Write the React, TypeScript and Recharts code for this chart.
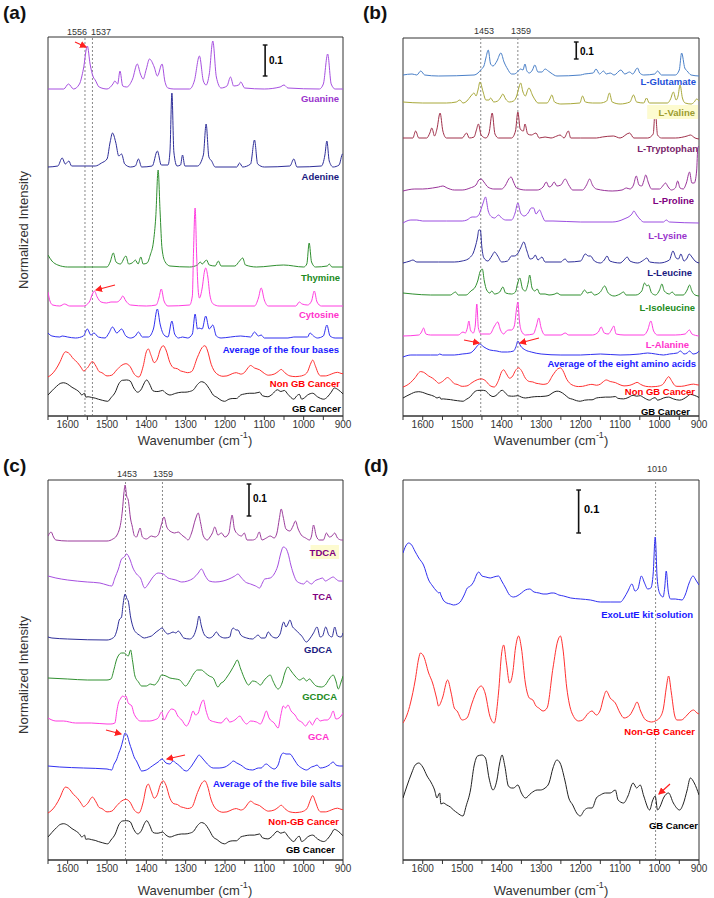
import React from "react";
import { LineChart, Line, XAxis, YAxis, ReferenceLine, ReferenceArea } from "recharts";

type Pt = [number, number];

const FONT = "'Liberation Sans', Arial, sans-serif";
const TICKS = [1650, 1600, 1550, 1500, 1450, 1400, 1350, 1300, 1250, 1200, 1150, 1100, 1050, 1000, 950, 900];

// heights above each trace's own baseline (figure units, the 0.1 bar gives the scale)

// (a) nucleobases
const guanine: Pt[] = [[1650,0],[1610,0],[1598,5],[1585,0],[1570,5],[1560,20],[1550,43],[1543,25],[1535,12],[1530,9],[1520,2],[1500,0],[1485,5],[1480,8],[1473,5],[1467,18],[1460,3],[1450,2],[1435,10],[1423,25],[1415,15],[1408,10],[1400,20],[1392,30],[1380,22],[1372,13],[1360,25],[1353,8],[1345,1],[1330,0],[1290,0],[1278,8],[1265,33],[1255,8],[1248,4],[1240,15],[1231,48],[1222,12],[1210,1],[1195,3],[1186,12],[1178,3],[1165,4],[1160,7],[1150,1],[1100,0],[1060,2],[1050,4],[1040,1],[960,0],[950,5],[939,35],[930,5],[920,0],[900,0]];
const adenine: Pt[] = [[1650,0],[1625,1],[1614,9],[1606,3],[1597,6],[1590,1],[1530,1],[1514,4],[1500,8],[1492,25],[1486,34],[1478,25],[1470,11],[1463,13],[1455,3],[1440,0],[1428,1],[1420,8],[1412,0],[1385,1],[1372,16],[1362,2],[1345,2],[1340,15],[1335,74],[1330,15],[1322,1],[1313,2],[1308,12],[1302,1],[1270,1],[1255,12],[1248,43],[1241,10],[1234,6],[1225,0],[1170,0],[1163,4],[1155,0],[1135,3],[1125,27],[1117,3],[1100,0],[1035,1],[1025,8],[1017,0],[955,1],[946,12],[941,26],[935,6],[925,0],[910,2],[901,13],[900,13]];
const thymine: Pt[] = [[1650,12],[1640,6],[1625,2],[1600,0],[1500,0],[1492,5],[1484,14],[1477,5],[1466,3],[1452,11],[1445,3],[1433,5],[1428,7],[1421,3],[1414,10],[1408,3],[1398,4],[1390,12],[1382,25],[1376,50],[1370,97],[1365,55],[1360,18],[1352,5],[1340,1],[1290,0],[1270,2],[1263,5],[1258,3],[1247,7],[1240,2],[1225,1],[1217,6],[1210,1],[1175,1],[1163,6],[1155,9],[1148,2],[1120,0],[1051,2],[1000,0],[992,3],[986,24],[980,5],[970,0],[940,1],[935,3],[928,0],[900,0]];
const cytosine: Pt[] = [[1650,14],[1645,5],[1638,1],[1620,0],[1608,2],[1595,0],[1560,0],[1545,4],[1537,12],[1532,15],[1525,9],[1515,4],[1501,3],[1490,4],[1475,4],[1465,7],[1460,10],[1452,5],[1440,1],[1400,0],[1375,1],[1368,8],[1362,17],[1355,5],[1345,0],[1290,1],[1283,10],[1280,55],[1276,98],[1272,50],[1268,15],[1265,8],[1258,18],[1252,35],[1249,38],[1244,30],[1238,10],[1230,2],[1215,0],[1125,0],[1115,8],[1108,18],[1100,6],[1090,0],[1020,0],[1011,4],[1004,2],[990,1],[980,5],[973,15],[966,4],[955,0],[900,0]];
const avgBases: Pt[] = [[1650,6],[1640,3],[1620,2],[1614,3],[1600,2],[1580,1],[1560,3],[1550,10],[1541,4],[1533,6],[1522,2],[1505,1],[1495,6],[1486,12],[1475,6],[1463,10],[1452,3],[1440,1],[1428,3],[1420,7],[1410,2],[1395,2],[1382,10],[1372,30],[1365,15],[1355,4],[1345,2],[1335,18],[1328,5],[1318,1],[1308,2],[1295,1],[1283,5],[1276,25],[1270,10],[1266,11],[1258,10],[1249,23],[1240,10],[1231,14],[1222,3],[1210,1],[1186,2],[1160,3],[1135,2],[1125,7],[1115,3],[1108,4],[1100,1],[1040,1],[1025,2],[990,2],[984,6],[975,3],[965,1],[950,3],[941,14],[933,3],[920,1],[900,1]];

// (b) amino acids
const glutamate: Pt[] = [[1650,1],[1627,2],[1615,1],[1605,5],[1595,1],[1560,0],[1470,1],[1460,3],[1451,7],[1445,10],[1440,18],[1434,26],[1428,12],[1422,10],[1412,15],[1402,23],[1394,14],[1385,7],[1375,2],[1368,2],[1360,4],[1352,7],[1346,6],[1341,12],[1336,5],[1330,3],[1322,6],[1316,11],[1308,4],[1298,4],[1290,7],[1282,5],[1275,3],[1260,0],[1200,1],[1190,2],[1168,3],[1161,7],[1152,2],[1142,5],[1135,2],[1125,3],[1115,1],[1098,6],[1088,2],[1076,4],[1068,2],[1056,8],[1050,3],[1040,1],[1012,2],[1005,5],[995,1],[960,1],[950,6],[944,23],[936,8],[930,5],[920,1],[900,0]];
const valine: Pt[] = [[1650,2],[1600,1],[1540,1],[1515,2],[1506,4],[1498,1],[1488,3],[1478,8],[1470,11],[1465,8],[1460,14],[1455,22],[1447,12],[1440,4],[1432,4],[1428,6],[1420,2],[1410,3],[1402,7],[1397,10],[1390,5],[1380,2],[1370,3],[1362,8],[1356,17],[1352,21],[1346,12],[1340,8],[1333,15],[1331,16],[1321,8],[1315,4],[1308,1],[1285,1],[1278,5],[1273,9],[1266,2],[1250,0],[1202,1],[1195,8],[1188,2],[1170,1],[1150,1],[1134,3],[1127,11],[1120,2],[1100,0],[1075,2],[1066,9],[1058,2],[1040,1],[1033,6],[1026,1],[980,1],[972,5],[965,12],[958,4],[953,8],[948,19],[942,6],[935,1],[920,0],[912,2],[906,5],[900,3]];
const tryptophan: Pt[] = [[1650,1],[1625,1],[1618,8],[1610,1],[1590,1],[1582,6],[1577,11],[1570,3],[1564,10],[1556,26],[1549,8],[1540,1],[1500,1],[1489,6],[1482,1],[1470,2],[1464,9],[1459,15],[1452,4],[1440,1],[1432,6],[1424,26],[1417,5],[1408,1],[1375,1],[1365,8],[1359,27],[1353,10],[1345,8],[1341,15],[1334,5],[1325,4],[1313,6],[1305,1],[1290,2],[1275,1],[1260,3],[1252,4],[1242,1],[1231,8],[1225,1],[1200,1],[1160,1],[1145,2],[1117,3],[1100,1],[1076,6],[1065,1],[1030,1],[1016,5],[1011,29],[1005,4],[995,1],[960,1],[930,3],[922,4],[910,1],[900,0]];
const proline: Pt[] = [[1650,0],[1620,2],[1600,2],[1575,3],[1560,4],[1549,5],[1538,3],[1520,1],[1500,1],[1480,3],[1465,6],[1458,11],[1452,12],[1445,9],[1435,4],[1420,2],[1400,2],[1390,6],[1382,12],[1376,14],[1370,9],[1362,3],[1340,1],[1310,1],[1295,4],[1287,9],[1280,4],[1274,5],[1267,9],[1260,5],[1250,6],[1239,12],[1230,6],[1220,1],[1195,1],[1185,6],[1177,12],[1170,6],[1160,2],[1120,0],[1095,1],[1084,3],[1075,2],[1066,6],[1059,15],[1052,6],[1045,5],[1040,10],[1035,16],[1028,8],[1020,2],[1000,2],[990,6],[985,8],[978,4],[970,1],[960,3],[954,10],[948,3],[940,2],[932,8],[924,19],[918,8],[912,8],[906,20],[903,43],[900,45]];
const lysine: Pt[] = [[1650,0],[1630,3],[1615,3],[1600,2],[1540,2],[1500,2],[1488,3],[1475,6],[1466,6],[1458,8],[1453,13],[1447,20],[1441,26],[1434,12],[1425,6],[1418,5],[1408,8],[1400,5],[1390,3],[1375,3],[1366,10],[1359,20],[1352,10],[1343,7],[1333,10],[1325,15],[1319,15],[1313,9],[1304,13],[1297,7],[1290,2],[1270,2],[1200,1],[1120,1],[1090,4],[1070,9],[1065,12],[1058,8],[1050,4],[1040,1],[990,1],[983,3],[975,1],[900,0]];
const leucine: Pt[] = [[1650,0],[1632,2],[1625,3],[1615,1],[1560,1],[1520,1],[1500,2],[1485,4],[1479,6],[1472,10],[1467,16],[1461,26],[1458,33],[1454,33],[1450,15],[1445,5],[1435,2],[1425,7],[1418,11],[1410,7],[1400,1],[1385,2],[1375,7],[1368,7],[1360,9],[1352,15],[1344,21],[1336,12],[1328,4],[1320,5],[1315,8],[1308,3],[1298,6],[1290,1],[1250,1],[1244,3],[1239,4],[1232,1],[1200,2],[1188,9],[1180,7],[1175,7],[1165,2],[1150,0],[1140,3],[1133,7],[1126,2],[1100,0],[1090,3],[1082,6],[1075,2],[1055,0],[1040,3],[1032,5],[1025,1],[1000,0],[975,3],[966,12],[958,5],[952,4],[946,9],[938,2],[930,5],[925,9],[918,6],[910,2],[900,0]];
const isoleucine: Pt[] = [[1650,3],[1625,2],[1580,1],[1530,1],[1522,3],[1517,4],[1510,1],[1490,1],[1478,5],[1467,9],[1460,16],[1455,24],[1449,27],[1444,15],[1438,6],[1430,3],[1425,5],[1418,2],[1405,4],[1397,9],[1390,3],[1375,2],[1365,4],[1360,12],[1354,18],[1347,7],[1340,5],[1333,13],[1329,21],[1323,8],[1316,5],[1310,7],[1303,2],[1290,2],[1280,1],[1265,2],[1260,3],[1250,1],[1200,1],[1190,6],[1183,3],[1173,4],[1165,1],[1150,4],[1139,10],[1130,3],[1115,0],[1100,2],[1091,4],[1085,1],[1060,1],[1045,5],[1038,13],[1032,10],[1028,11],[1020,3],[1010,1],[1000,6],[994,12],[988,5],[975,2],[968,4],[960,1],[940,1],[930,6],[924,11],[918,5],[910,1],[900,0]];
const alanine: Pt[] = [[1650,0],[1610,1],[1603,4],[1598,8],[1592,2],[1580,1],[1510,1],[1498,4],[1492,3],[1487,8],[1483,15],[1479,6],[1472,3],[1467,10],[1463,32],[1459,8],[1452,2],[1430,2],[1418,10],[1410,14],[1403,6],[1395,2],[1388,5],[1382,6],[1375,6],[1368,10],[1362,28],[1359,34],[1355,15],[1350,5],[1340,1],[1320,2],[1312,10],[1306,18],[1300,8],[1290,1],[1250,1],[1239,3],[1230,1],[1170,1],[1155,4],[1148,9],[1140,3],[1130,2],[1122,6],[1116,10],[1110,2],[1090,1],[1040,1],[1030,6],[1022,15],[1015,5],[1005,1],[960,1],[935,2],[928,5],[924,6],[918,2],[900,0]];
const avgAmino: Pt[] = [[1650,0],[1630,2],[1615,2],[1580,2],[1562,2],[1557,3],[1550,2],[1520,2],[1500,3],[1480,4],[1470,7],[1462,11],[1456,13],[1445,10],[1430,7],[1412,6],[1400,5],[1385,5],[1370,6],[1364,10],[1359,16],[1352,11],[1340,7],[1325,5],[1300,3],[1250,2],[1200,2],[1150,3],[1100,2],[1050,3],[1030,4],[1010,3],[990,2],[975,3],[955,4],[947,6],[938,3],[930,4],[924,6],[915,3],[905,4],[900,6]];

// (c) bile salts
const tdca: Pt[] = [[1650,5],[1642,9],[1636,4],[1630,1],[1600,0],[1500,0],[1485,2],[1476,5],[1470,10],[1467,14],[1461,30],[1457,48],[1454,56],[1450,45],[1446,41],[1440,22],[1436,15],[1430,5],[1425,4],[1420,9],[1416,13],[1410,4],[1400,2],[1387,5],[1378,4],[1370,6],[1362,16],[1355,24],[1348,14],[1343,11],[1336,9],[1328,8],[1319,9],[1310,6],[1300,3],[1294,1],[1285,8],[1275,22],[1268,28],[1262,18],[1255,5],[1245,1],[1238,4],[1232,8],[1226,14],[1218,6],[1209,8],[1200,4],[1190,8],[1186,18],[1182,26],[1176,12],[1168,7],[1158,5],[1151,8],[1144,1],[1130,1],[1120,3],[1113,9],[1106,1],[1095,3],[1085,5],[1075,3],[1068,8],[1062,22],[1057,32],[1052,24],[1045,12],[1035,10],[1027,15],[1021,20],[1014,12],[1006,6],[995,3],[985,1],[980,5],[975,16],[968,5],[960,1],[950,1],[942,8],[935,4],[928,5],[921,8],[914,3],[904,1],[900,1]];
const tca: Pt[] = [[1650,5],[1630,3],[1600,1],[1550,-1],[1518,-2],[1500,-4],[1488,-5],[1480,3],[1471,12],[1463,22],[1456,24],[1450,27],[1442,22],[1434,13],[1425,7],[1415,3],[1404,-7],[1395,-3],[1385,3],[1370,8],[1357,7],[1345,3],[1336,2],[1325,1],[1310,-1],[1295,0],[1280,3],[1268,8],[1260,12],[1250,5],[1240,0],[1225,-1],[1205,0],[1190,2],[1175,5],[1167,7],[1160,4],[1148,-1],[1135,-3],[1122,-5],[1112,-7],[1105,-2],[1099,2],[1085,3],[1075,7],[1066,15],[1058,28],[1052,34],[1046,33],[1040,28],[1032,15],[1025,6],[1018,0],[1010,-2],[1000,-3],[992,0],[985,-2],[980,-3],[972,0],[960,2],[952,3],[945,0],[935,2],[925,4],[918,2],[910,0],[900,0]];
const gdca: Pt[] = [[1650,2],[1640,1],[1600,0],[1500,-1],[1485,1],[1480,3],[1474,10],[1469,19],[1463,22],[1459,35],[1454,45],[1449,40],[1446,38],[1440,22],[1432,10],[1425,6],[1418,4],[1405,1],[1395,2],[1387,3],[1375,7],[1368,9],[1360,11],[1352,7],[1345,5],[1338,6],[1332,7],[1325,6],[1319,8],[1312,5],[1305,1],[1290,0],[1280,3],[1272,12],[1266,23],[1260,13],[1252,4],[1240,1],[1230,3],[1222,7],[1214,3],[1200,1],[1188,2],[1183,9],[1179,11],[1172,9],[1167,9],[1160,4],[1145,1],[1130,0],[1120,3],[1116,4],[1108,1],[1098,1],[1090,7],[1082,3],[1070,1],[1060,5],[1051,17],[1045,12],[1040,15],[1035,19],[1028,12],[1023,10],[1015,7],[1005,3],[993,-3],[985,0],[975,6],[966,12],[958,2],[952,3],[944,12],[936,4],[928,2],[921,12],[914,3],[905,2],[900,6]];
const gcdca: Pt[] = [[1650,1],[1600,0],[1550,-1],[1500,-1],[1490,0],[1482,10],[1476,19],[1470,24],[1463,26],[1457,26],[1450,24],[1446,23],[1440,29],[1435,18],[1429,3],[1420,-3],[1412,-7],[1400,-7],[1390,-5],[1380,-6],[1370,-2],[1361,4],[1350,3],[1340,1],[1325,0],[1315,-1],[1300,-7],[1290,-2],[1280,5],[1270,9],[1260,9],[1250,6],[1240,3],[1230,1],[1218,-8],[1210,-4],[1205,-3],[1195,2],[1185,8],[1175,15],[1169,19],[1160,10],[1150,0],[1140,-6],[1130,-2],[1120,-3],[1110,-6],[1100,-1],[1090,3],[1085,4],[1078,-2],[1065,-10],[1055,-4],[1048,6],[1040,12],[1032,8],[1022,3],[1010,-1],[1000,1],[993,-2],[985,0],[978,-3],[968,-7],[955,-8],[945,-6],[935,0],[925,4],[918,-2],[912,-10],[905,-3],[900,3]];
const gca: Pt[] = [[1650,5],[1640,3],[1630,2],[1611,2],[1580,0],[1540,0],[1500,-1],[1490,-1],[1480,0],[1475,12],[1471,20],[1466,24],[1460,27],[1455,26],[1452,27],[1446,20],[1437,17],[1432,10],[1425,5],[1415,2],[1400,2],[1391,2],[1380,3],[1370,5],[1361,11],[1355,3],[1345,10],[1336,14],[1328,13],[1320,7],[1310,3],[1298,-3],[1290,2],[1281,12],[1275,8],[1268,10],[1262,18],[1255,23],[1248,12],[1239,3],[1225,1],[1210,0],[1196,5],[1188,1],[1175,3],[1162,7],[1155,3],[1145,-1],[1135,2],[1120,1],[1110,-1],[1102,5],[1095,12],[1088,5],[1075,0],[1065,-5],[1058,8],[1052,17],[1046,15],[1040,18],[1032,12],[1022,8],[1014,3],[1005,1],[995,-3],[985,2],[978,-2],[972,2],[966,5],[958,2],[948,3],[940,3],[932,6],[925,12],[918,4],[910,5],[900,10]];
const avgBile: Pt[] = [[1650,2],[1620,1],[1560,0],[1500,-1],[1488,-2],[1482,4],[1476,8],[1470,15],[1465,20],[1460,27],[1454,35],[1448,32],[1443,25],[1437,18],[1430,10],[1425,7],[1418,1],[1412,-3],[1400,-2],[1385,2],[1370,6],[1360,9],[1350,5],[1340,4],[1332,7],[1325,5],[1315,2],[1305,-2],[1298,-3],[1285,2],[1272,10],[1266,13],[1258,10],[1245,4],[1230,0],[1215,0],[1200,1],[1185,5],[1179,7],[1170,5],[1160,3],[1145,-1],[1130,-2],[1115,0],[1108,0],[1100,3],[1095,4],[1085,1],[1075,-1],[1065,3],[1058,12],[1052,15],[1045,14],[1035,14],[1025,9],[1015,3],[1005,0],[993,-2],[980,1],[972,2],[966,3],[958,0],[945,1],[935,3],[925,6],[918,3],[908,2],[900,2]];

// (d) kit solution and the two patient spectra (also reused, scaled, in a-c)
const exolute: Pt[] = [[1650,50],[1643,57],[1636,60],[1628,58],[1620,52],[1610,45],[1598,38],[1585,23],[1575,17],[1565,12],[1559,10],[1557,11],[1554,8],[1548,3],[1539,0],[1530,-1],[1522,-2],[1512,-1],[1505,1],[1495,8],[1487,15],[1479,17],[1470,22],[1464,28],[1458,31],[1450,27],[1440,26],[1429,25],[1420,26],[1408,27],[1400,22],[1390,15],[1380,8],[1370,6],[1361,7],[1350,10],[1340,13],[1329,14],[1318,11],[1305,10],[1295,9],[1285,9],[1275,10],[1268,10],[1255,8],[1243,7],[1225,5],[1200,4],[1175,3],[1150,1],[1125,1],[1099,1],[1090,5],[1080,12],[1070,19],[1062,12],[1055,14],[1046,27],[1038,20],[1030,14],[1022,15],[1016,30],[1011,66],[1006,25],[1000,10],[991,6],[987,15],[983,32],[978,12],[972,4],[960,4],[943,3],[935,8],[925,20],[915,27],[908,23],[900,18]];
const nonGb: Pt[] = [[1650,0],[1640,8],[1631,20],[1619,43],[1610,65],[1606,70],[1598,67],[1585,50],[1575,40],[1565,25],[1560,17],[1550,25],[1537,43],[1528,30],[1520,15],[1513,12],[1500,3],[1488,5],[1475,20],[1462,33],[1452,37],[1442,30],[1430,7],[1419,0],[1408,30],[1400,70],[1395,78],[1388,60],[1380,40],[1372,50],[1365,75],[1357,87],[1350,75],[1340,40],[1330,25],[1321,23],[1313,17],[1306,15],[1295,12],[1285,15],[1270,55],[1258,82],[1251,87],[1245,75],[1235,35],[1222,10],[1205,2],[1195,3],[1180,10],[1171,12],[1160,8],[1150,13],[1142,25],[1135,32],[1125,25],[1112,20],[1100,10],[1090,5],[1075,8],[1065,15],[1057,21],[1048,12],[1035,3],[1020,1],[1011,2],[1000,5],[990,15],[983,35],[977,47],[970,30],[962,8],[956,3],[945,3],[930,8],[920,12],[914,13],[905,10],[900,9]];
const gb: Pt[] = [[1650,0],[1640,12],[1628,25],[1619,33],[1610,35],[1600,31],[1589,22],[1578,15],[1570,8],[1564,0],[1559,4],[1557,5],[1554,-6],[1548,-5],[1539,-7],[1530,-9],[1522,-12],[1512,-15],[1505,-17],[1498,-18],[1490,-8],[1479,8],[1470,32],[1461,42],[1450,43],[1441,40],[1432,20],[1422,8],[1412,18],[1405,35],[1399,43],[1392,32],[1383,12],[1375,10],[1370,10],[1359,13],[1350,5],[1340,0],[1325,5],[1310,8],[1302,8],[1290,10],[1280,15],[1270,30],[1260,38],[1252,35],[1240,18],[1230,0],[1220,-7],[1210,-15],[1201,-18],[1190,-12],[1180,-10],[1171,-10],[1160,0],[1150,3],[1137,5],[1125,5],[1112,8],[1105,-2],[1091,-5],[1080,2],[1067,15],[1058,10],[1049,13],[1040,2],[1025,-12],[1018,-3],[1011,2],[1005,-12],[998,-8],[990,0],[977,5],[965,-5],[949,-12],[940,-6],[930,8],[922,20],[912,15],[900,3]];

interface Trace {
  label: string;
  data: Pt[];
  base: number;
  gain?: number;
  line: string;
  text: string;
  lx: number;
  ly: number;
  hl?: boolean;
}

interface PanelProps {
  x: number;
  y: number;
  w: number;
  h: number;
  m: { top: number; right: number; bottom: number; left: number };
  traces: Trace[];
  refs: number[];
  bar: { x: number; y: number; len: number };
}

const toPoints = (t: Trace) =>
  [...t.data]
    .sort((p, q) => p[0] - q[0])
    .map(([x, v]) => ({ x, y: t.base + v * (t.gain ?? 1) }));

function Panel({ x, y, w, h, m, traces, refs, bar }: PanelProps) {
  const plotH = h - m.top - m.bottom;
  return (
    <div style={{ position: "absolute", left: x, top: y }}>
      <LineChart width={w} height={h} margin={{ top: m.top, right: m.right, bottom: 0, left: m.left }}>
        <XAxis
          xAxisId="b"
          type="number"
          dataKey="x"
          domain={[900, 1650]}
          reversed
          allowDataOverflow
          ticks={TICKS}
          interval={0}
          tickFormatter={(v) => (Number(v) % 100 === 0 ? String(v) : "")}
          height={m.bottom}
          tickSize={4}
          tickMargin={1}
          stroke="#333"
          tick={{ fontSize: 10, fill: "#333", fontFamily: FONT }}
        />
        <YAxis yAxisId="l" type="number" domain={[0, plotH]} allowDataOverflow hide />
        {refs.map((r) => (
          <ReferenceLine key={r} xAxisId="b" yAxisId="l" x={r} stroke="#888" strokeDasharray="2 2" />
        ))}
        {traces.map((t) => (
          <Line
            key={t.label}
            xAxisId="b"
            yAxisId="l"
            data={toPoints(t)}
            dataKey="y"
            type="monotone"
            stroke={t.line}
            strokeWidth={1}
            dot={false}
            isAnimationActive={false}
          />
        ))}
        <ReferenceLine xAxisId="b" yAxisId="l" segment={[{ x: bar.x, y: bar.y }, { x: bar.x, y: bar.y + bar.len }]} stroke="#111" strokeWidth={1.6} />
        <ReferenceLine xAxisId="b" yAxisId="l" segment={[{ x: bar.x + 6, y: bar.y }, { x: bar.x - 6, y: bar.y }]} stroke="#111" strokeWidth={1.4} />
        <ReferenceLine xAxisId="b" yAxisId="l" segment={[{ x: bar.x + 6, y: bar.y + bar.len }, { x: bar.x - 6, y: bar.y + bar.len }]} stroke="#111" strokeWidth={1.4} />
        <ReferenceArea xAxisId="b" yAxisId="l" x1={1650} x2={900} y1={0} y2={plotH} fill="none" fillOpacity={0} stroke="#333" strokeWidth={1} ifOverflow="visible" />
      </LineChart>
    </div>
  );
}

const PANEL_A: Trace[] = [
  { label: "Guanine", data: guanine, base: 327, line: "#a64fe0", text: "#9933cc", lx: 339, ly: 98 },
  { label: "Adenine", data: adenine, base: 249, line: "#2e2e99", text: "#1a1a80", lx: 339, ly: 176 },
  { label: "Thymine", data: thymine, base: 149, line: "#2f8f2f", text: "#228b22", lx: 340, ly: 277 },
  { label: "Cytosine", data: cytosine, base: 110, line: "#ff3de0", text: "#ff33cc", lx: 339, ly: 314 },
  { label: "Average of the four bases", data: avgBases, base: 77, line: "#3030f0", text: "#1a1aff", lx: 339, ly: 349 },
  { label: "Non GB Cancer", data: nonGb, base: 39, gain: 0.36, line: "#ff3030", text: "#ff0000", lx: 340, ly: 383 },
  { label: "GB Cancer", data: gb, base: 21, gain: 0.35, line: "#222", text: "#000", lx: 341, ly: 408 },
];

const PANEL_B: Trace[] = [
  { label: "L-Glutamate", data: glutamate, base: 340, line: "#4a80c8", text: "#2250d8", lx: 696, ly: 81 },
  { label: "L-Valine", data: valine, base: 312, line: "#a8a83a", text: "#9c9c2e", lx: 695, ly: 112, hl: true },
  { label: "L-Tryptophan", data: tryptophan, base: 277, line: "#a0304a", text: "#7a1f6a", lx: 698, ly: 148 },
  { label: "L-Proline", data: proline, base: 225, line: "#993399", text: "#800080", lx: 694, ly: 200 },
  { label: "L-Lysine", data: lysine, base: 193, line: "#9b4de0", text: "#9933cc", lx: 687, ly: 235 },
  { label: "L-Leucine", data: leucine, base: 153, line: "#2e2e99", text: "#1a1a80", lx: 692, ly: 272 },
  { label: "L-Isoleucine", data: isoleucine, base: 120, line: "#2f8f2f", text: "#228b22", lx: 695, ly: 307 },
  { label: "L-Alanine", data: alanine, base: 80, line: "#ff3de0", text: "#ff33cc", lx: 689, ly: 344 },
  { label: "Average of the eight amino acids", data: avgAmino, base: 59, line: "#3030f0", text: "#1a1aff", lx: 696, ly: 363 },
  { label: "Non GB Cancer", data: nonGb, base: 29, gain: 0.22, line: "#ff3030", text: "#ff0000", lx: 695, ly: 391 },
  { label: "GB Cancer", data: gb, base: 18, gain: 0.18, line: "#222", text: "#000", lx: 690, ly: 411 },
];

const PANEL_C: Trace[] = [
  { label: "TDCA", data: tdca, base: 319, line: "#9b3b9b", text: "#800080", lx: 336, ly: 552, hl: true },
  { label: "TCA", data: tca, base: 279, line: "#a64fe0", text: "#800080", lx: 332, ly: 596 },
  { label: "GDCA", data: gdca, base: 221, line: "#2e2e99", text: "#1a1a80", lx: 332, ly: 649 },
  { label: "GCDCA", data: gcdca, base: 181, line: "#2f8f2f", text: "#228b22", lx: 337, ly: 696 },
  { label: "GCA", data: gca, base: 137, line: "#ff3de0", text: "#ff33cc", lx: 329, ly: 736 },
  { label: "Average of the five bile salts", data: avgBile, base: 92, line: "#3030f0", text: "#1a1aff", lx: 341, ly: 783 },
  { label: "Non-GB Cancer", data: nonGb, base: 47, gain: 0.37, line: "#ff3030", text: "#ff0000", lx: 339, ly: 821 },
  { label: "GB Cancer", data: gb, base: 23, gain: 0.38, line: "#222", text: "#000", lx: 335, ly: 849 },
];

const PANEL_D: Trace[] = [
  { label: "ExoLutE kit solution", data: exolute, base: 257, line: "#3030f0", text: "#1a1aff", lx: 693, ly: 614 },
  { label: "Non-GB Cancer", data: nonGb, base: 137, line: "#ff3030", text: "#ff0000", lx: 695, ly: 731 },
  { label: "GB Cancer", data: gb, base: 62, line: "#222", text: "#000", lx: 698, ly: 825 },
];

const REF_LABELS = [
  { t: "1556", x: 77, y: 32 },
  { t: "1537", x: 101, y: 32 },
  { t: "1453", x: 484, y: 31 },
  { t: "1359", x: 521, y: 31 },
  { t: "1453", x: 127, y: 474 },
  { t: "1359", x: 163, y: 474 },
  { t: "1010", x: 657, y: 469 },
];

const ARROWS = [
  [75, 42, 86, 47],
  [115, 285, 96, 290],
  [464, 340, 479, 343],
  [539, 338, 520, 343],
  [106, 730, 121, 734],
  [185, 755, 167, 759],
  [670, 784, 659, 794],
];

function XTitle({ x, y }: { x: number; y: number }) {
  return (
    <text x={x} y={y} textAnchor="middle" dominantBaseline="central" fontSize={13} fill="#333" fontFamily={FONT}>
      Wavenumber (cm<tspan dy={-5} fontSize={9}>-1</tspan>
      <tspan dy={5}>)</tspan>
    </text>
  );
}

function YTitle({ x, y }: { x: number; y: number }) {
  return (
    <text x={x} y={y} transform={`rotate(-90 ${x} ${y})`} textAnchor="middle" dominantBaseline="central" fontSize={13} fill="#333" fontFamily={FONT}>
      Normalized Intensity
    </text>
  );
}

export default function App() {
  const all = [...PANEL_A, ...PANEL_B, ...PANEL_C, ...PANEL_D];
  return (
    <div style={{ position: "absolute", left: 0, top: 0, width: 714, height: 898, background: "#fff", fontFamily: FONT }}>
      <Panel x={0} y={0} w={357} h={440} m={{ top: 37, right: 14, bottom: 24, left: 48 }} traces={PANEL_A} refs={[1556, 1537]} bar={{ x: 1098, y: 340, len: 31 }} />
      <Panel x={357} y={0} w={357} h={440} m={{ top: 38, right: 15, bottom: 24, left: 46 }} traces={PANEL_B} refs={[1453, 1359]} bar={{ x: 1211, y: 357, len: 17 }} />
      <Panel x={0} y={440} w={357} h={458} m={{ top: 40, right: 14, bottom: 38, left: 48 }} traces={PANEL_C} refs={[1453, 1359]} bar={{ x: 1139, y: 344, len: 32 }} />
      <Panel x={357} y={440} w={357} h={458} m={{ top: 40, right: 15, bottom: 38, left: 46 }} traces={PANEL_D} refs={[1010]} bar={{ x: 1205, y: 327, len: 43 }} />

      <svg width={714} height={898} style={{ position: "absolute", left: 0, top: 0, pointerEvents: "none" }}>
        <defs>
          <marker id="head" markerWidth="6" markerHeight="6" refX="5" refY="3" orient="auto">
            <path d="M0,0 L6,3 L0,6 z" fill="#ff2020" />
          </marker>
        </defs>
        <g fontFamily={FONT} fontWeight="bold" fontSize={19} fill="#111">
          <text x={3} y={12} dominantBaseline="central">(a)</text>
          <text x={363} y={12} dominantBaseline="central">(b)</text>
          <text x={3} y={465} dominantBaseline="central">(c)</text>
          <text x={364} y={465} dominantBaseline="central">(d)</text>
        </g>
        <g fontFamily={FONT} fontWeight="bold" fontSize={10}>
          <text x={269} y={60} dominantBaseline="central">0.1</text>
          <text x={580} y={51} dominantBaseline="central">0.1</text>
          <text x={253} y={498} dominantBaseline="central">0.1</text>
          <text x={584} y={509} dominantBaseline="central" fontSize={11}>0.1</text>
        </g>
        {REF_LABELS.map((r, i) => (
          <text key={i} x={r.x} y={r.y} textAnchor="middle" dominantBaseline="central" fontSize={9} fill="#333" fontFamily={FONT}>
            {r.t}
          </text>
        ))}
        {all.map((t, i) => (
          <g key={i}>
            {t.hl && <rect x={t.lx - t.label.length * 5.6 - 3} y={t.ly - 7} width={t.label.length * 5.6 + 6} height={14} fill="#fdfbd0" />}
            <text x={t.lx} y={t.ly} textAnchor="end" dominantBaseline="central" fontSize={9.5} fontWeight="bold" fill={t.text} fontFamily={FONT}>
              {t.label}
            </text>
          </g>
        ))}
        {ARROWS.map(([x1, y1, x2, y2], i) => (
          <line key={i} x1={x1} y1={y1} x2={x2} y2={y2} stroke="#ff2020" strokeWidth={1.2} markerEnd="url(#head)" />
        ))}
        <XTitle x={195} y={440} />
        <XTitle x={551} y={440} />
        <XTitle x={195} y={890} />
        <XTitle x={551} y={890} />
        <YTitle x={23} y={230} />
        <YTitle x={23} y={675} />
      </svg>
    </div>
  );
}
